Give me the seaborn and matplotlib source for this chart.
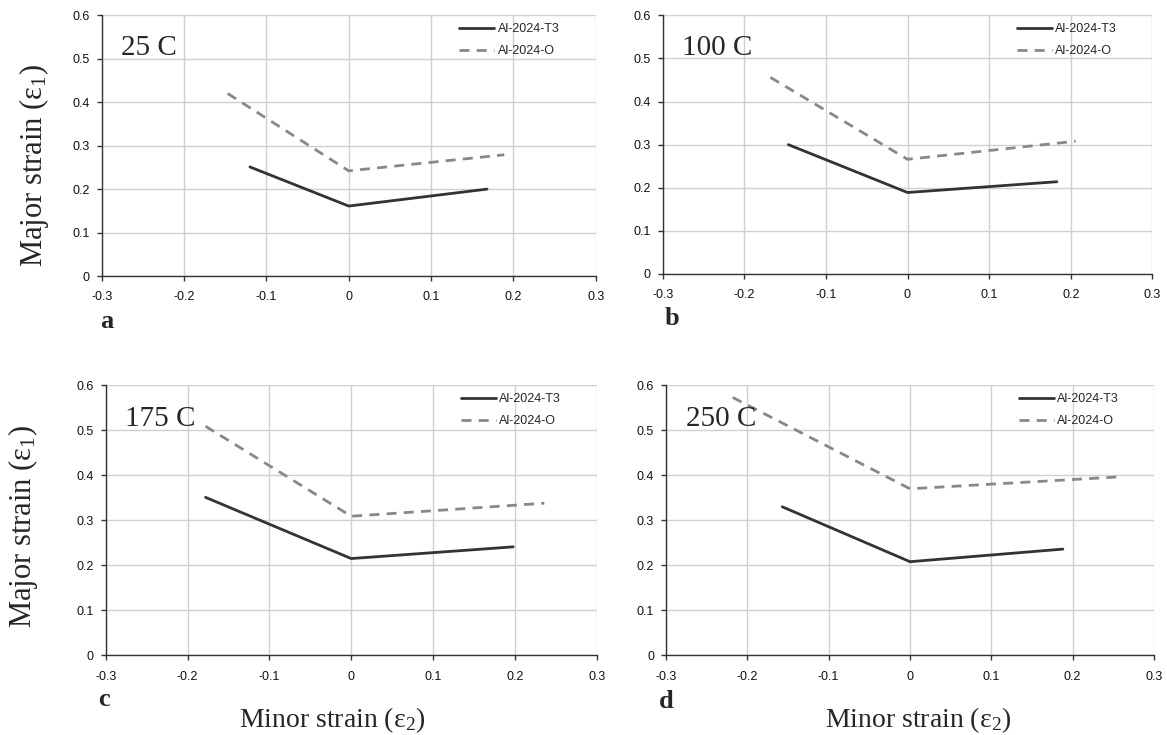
import numpy as np
import pandas as pd
import matplotlib
matplotlib.use("Agg")
import matplotlib.pyplot as plt
import seaborn as sns

# ---- data ----
temps = ["25 C", "100 C", "175 C", "250 C"]
panel_letters = ["a", "b", "c", "d"]
series_names = ["Al-2024-T3", "Al-2024-O"]

t3_minor = [[-0.12, 0.0, 0.168], [-0.146, 0.0, 0.183], [-0.178, 0.0, 0.198], [-0.157, 0.0, 0.188]]
t3_major = [[0.251, 0.161, 0.200], [0.300, 0.189, 0.214], [0.351, 0.215, 0.241], [0.330, 0.208, 0.236]]
o_minor = [[-0.147, 0.0, 0.189], [-0.168, 0.0, 0.206], [-0.178, 0.0, 0.236], [-0.218, 0.0, 0.262]]
o_major = [[0.420, 0.242, 0.279], [0.456, 0.266, 0.308], [0.509, 0.309, 0.338], [0.573, 0.370, 0.397]]

x_ticks = [-0.3, -0.2, -0.1, 0.0, 0.1, 0.2, 0.3]
x_tick_labels = ["-0.3", "-0.2", "-0.1", "0", "0.1", "0.2", "0.3"]
y_ticks = [0.0, 0.1, 0.2, 0.3, 0.4, 0.5, 0.6]
y_tick_labels = ["0", "0.1", "0.2", "0.3", "0.4", "0.5", "0.6"]

sns.set_theme(style="white")
plt.rcParams["font.family"] = ["Liberation Sans", "DejaVu Sans"]
plt.rcParams["mathtext.fontset"] = "custom"
plt.rcParams["mathtext.rm"] = "Liberation Serif"
plt.rcParams["mathtext.it"] = "Liberation Serif"

W, H = 1167, 735
fig = plt.figure(figsize=(W / 100, H / 100), dpi=100)

# axes boxes in pixels: left, right, top, bottom
boxes = [
    (101.7, 595.7, 15.3, 276.0),
    (662.7, 1152.3, 15.3, 274.0),
    (105.7, 596.7, 385.3, 655.3),
    (666.0, 1154.0, 385.3, 655.3),
]

serif = ["Liberation Serif", "DejaVu Serif"]

for i in range(4):
    l, r, t, b = boxes[i]
    ax = fig.add_axes([l / W, 1 - b / H, (r - l) / W, (b - t) / H])
    df = pd.DataFrame({
        "minor": t3_minor[i] + o_minor[i],
        "major": t3_major[i] + o_major[i],
        "series": [series_names[0]] * 3 + [series_names[1]] * 3,
    })
    sns.lineplot(data=df, x="minor", y="major", hue="series", style="series",
                 palette={series_names[0]: "#333333", series_names[1]: "#888888"},
                 dashes={series_names[0]: "", series_names[1]: (3.6, 2.6)},
                 sort=False, estimator=None, ax=ax, linewidth=2.0, legend=True)
    ax.set_xlim(-0.3, 0.3)
    ax.set_ylim(0, 0.6)
    ax.set_xticks(x_ticks)
    ax.set_xticklabels(x_tick_labels)
    ax.set_yticks(y_ticks)
    ax.set_yticklabels(y_tick_labels)
    ax.grid(True, color="#d0d0d0", linewidth=1.0)
    ax.set_axisbelow(True)
    for s in ["top", "right"]:
        ax.spines[s].set_visible(False)
    for s in ["left", "bottom"]:
        ax.spines[s].set_color("#333333")
        ax.spines[s].set_linewidth(1.0)
    ax.tick_params(axis="both", which="major", direction="out", length=3.5, width=1.0,
                   color="#333333", labelsize=9, labelcolor="#111111",
                   bottom=True, left=True)
    ax.tick_params(axis="x", pad=7.5)
    ax.tick_params(axis="y", pad=5)
    ax.set_xlabel("")
    ax.set_ylabel("")
    leg = ax.legend(loc="upper left", bbox_to_anchor=(0.724, 0.97), frameon=False,
                    fontsize=9, handlelength=2.75, labelspacing=0.8,
                    handletextpad=0.3, borderaxespad=0, borderpad=0)
    for h in leg.get_lines():
        h.set_linewidth(2.0)
    ax.text(0.040, 0.875, temps[i], transform=ax.transAxes, fontsize=21,
            family=serif, va="center", ha="left")

# panel letters
letter_pos = [(107, 321.7), (671.7, 318), (104, 700), (666.7, 701.7)]
for (px, py), letter in zip(letter_pos, panel_letters):
    fig.text(px / W, 1 - py / H, letter, fontsize=19, fontweight="bold",
             family=serif, ha="center", va="center")

# y labels
ylab = "Major strain (ε$_1$)"
fig.text(34 / W, 1 - 166 / H, ylab, rotation=90, fontsize=22, family=serif, ha="center", va="center")
fig.text(23 / W, 1 - 527 / H, ylab, rotation=90, fontsize=22, family=serif, ha="center", va="center")

# x labels
xlab = "Minor strain (ε$_2$)"
fig.text(332 / W, 1 - 727 / H, xlab, fontsize=20, family=serif, ha="center", va="baseline")
fig.text(918 / W, 1 - 727 / H, xlab, fontsize=20, family=serif, ha="center", va="baseline")

fig.savefig("out.png", dpi=100)
